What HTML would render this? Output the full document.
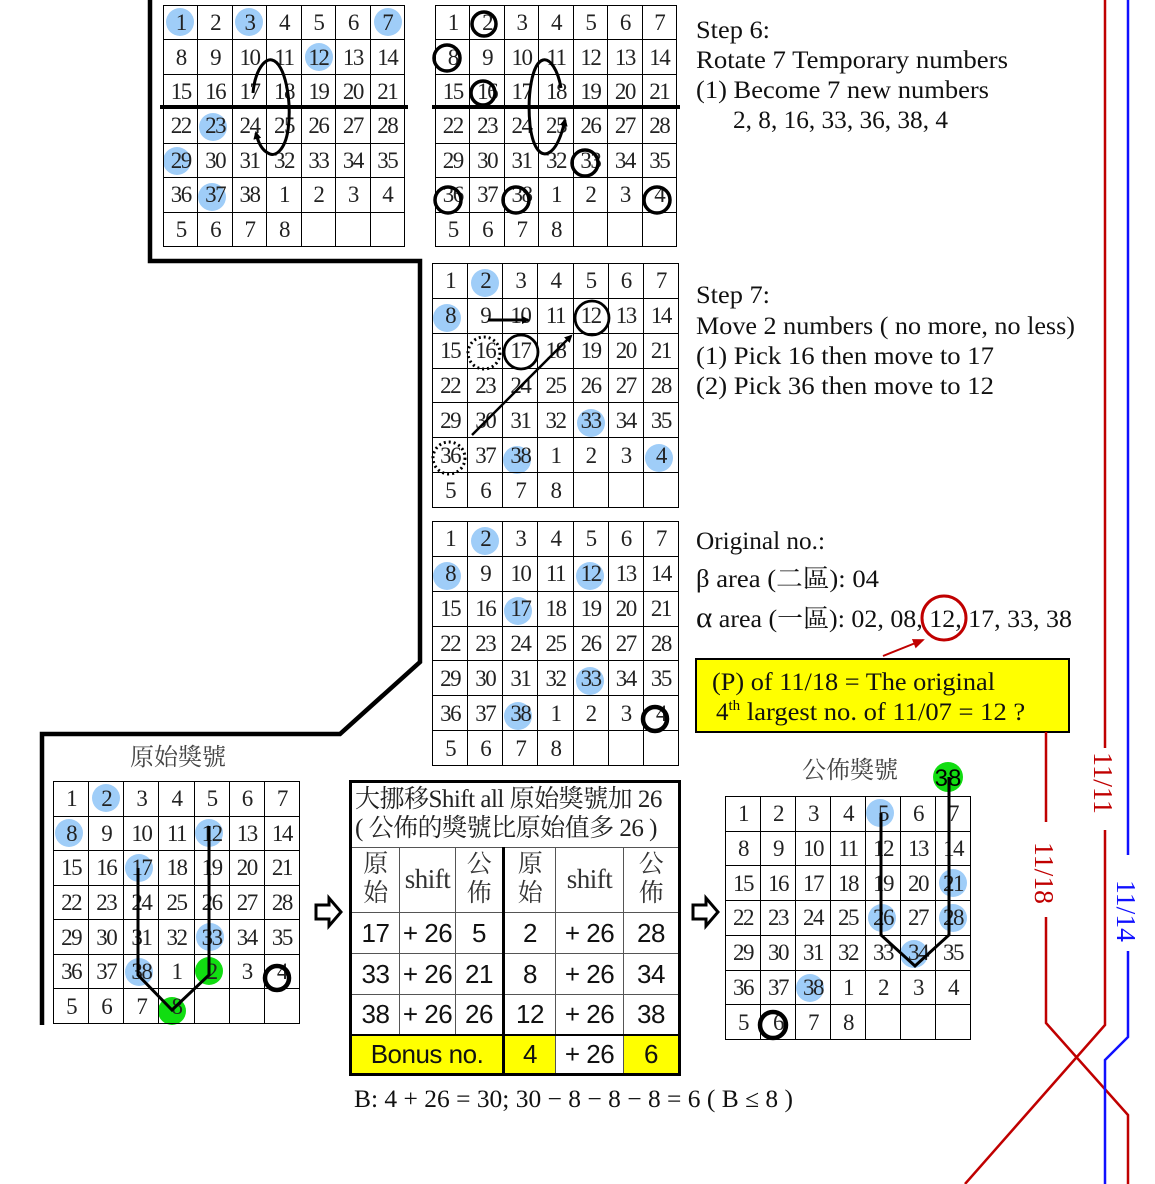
<!DOCTYPE html>
<html><head><meta charset="utf-8">
<style>
body{margin:0;width:1155px;height:1184px;background:#fff;position:relative;overflow:hidden}
svg{position:absolute;left:0;top:0}
table.g{position:absolute;border-collapse:collapse;table-layout:fixed;z-index:2}
table.g td{border:1.5px solid #000;padding:0;text-align:center;vertical-align:middle;font-family:"Liberation Serif",serif;font-size:23px;letter-spacing:-1.5px;color:#222;line-height:1}
table.t{position:absolute;left:349px;top:780px;width:329px;height:293px;border-collapse:collapse;table-layout:fixed;z-index:2;border:3px solid #000}
table.t td{border:1.5px solid #555;padding:0;text-align:center;vertical-align:middle;font-family:"Liberation Sans Narrow","Liberation Sans",sans-serif;font-size:26px;color:#111;white-space:nowrap;overflow:hidden;line-height:1;letter-spacing:-0.5px}
.cj{font-family:"Liberation Serif","Noto Serif CJK SC","Noto Sans CJK TC",serif!important;font-size:25px!important;line-height:1.15!important;color:#333!important}
.y{background:#ff0}
.bl{border-left:3.5px solid #000!important}
.yb{position:absolute;left:695px;top:658px;width:371px;height:71px;background:#ff0;border:2.5px solid #000;z-index:1}
</style></head><body>

<svg width="1155" height="1184" style="z-index:1">
<g fill="#9fcdf8">
<circle cx="180" cy="22" r="14"/><circle cx="249" cy="22" r="14"/><circle cx="388" cy="22" r="14"/><circle cx="319" cy="57" r="14"/><circle cx="213" cy="127" r="14"/><circle cx="177" cy="161" r="14"/><circle cx="212" cy="197" r="14"/>
<circle cx="485" cy="283" r="14"/><circle cx="447" cy="318" r="14"/><circle cx="591" cy="423" r="14"/><circle cx="517" cy="460" r="14"/><circle cx="659" cy="458" r="14"/>
<circle cx="485" cy="541" r="14"/><circle cx="447" cy="576" r="14"/><circle cx="590" cy="576" r="14"/><circle cx="518" cy="611" r="14"/><circle cx="590" cy="681" r="14"/><circle cx="518" cy="716" r="14"/>
<circle cx="106" cy="798" r="14"/><circle cx="69" cy="833" r="14"/><circle cx="209" cy="833" r="14"/><circle cx="139" cy="868" r="14"/><circle cx="210" cy="937" r="14"/><circle cx="139" cy="972" r="14"/>
<circle cx="880" cy="813" r="14"/><circle cx="953" cy="883" r="14"/><circle cx="882" cy="918" r="14"/><circle cx="953" cy="918" r="14"/><circle cx="914" cy="954" r="14"/><circle cx="810" cy="988" r="14"/>
</g>
<g fill="#11dd11"><circle cx="209" cy="971" r="14"/><circle cx="172" cy="1011" r="14"/><circle cx="948" cy="777" r="15"/></g>
</svg>

<div class="yb"></div>

<table class="g" style="left:163px;top:5px;width:242px;height:242px">
<tr><td>1</td><td>2</td><td>3</td><td>4</td><td>5</td><td>6</td><td>7</td></tr>
<tr><td>8</td><td>9</td><td>10</td><td>11</td><td>12</td><td>13</td><td>14</td></tr>
<tr><td>15</td><td>16</td><td>17</td><td>18</td><td>19</td><td>20</td><td>21</td></tr>
<tr><td>22</td><td>23</td><td>24</td><td>25</td><td>26</td><td>27</td><td>28</td></tr>
<tr><td>29</td><td>30</td><td>31</td><td>32</td><td>33</td><td>34</td><td>35</td></tr>
<tr><td>36</td><td>37</td><td>38</td><td>1</td><td>2</td><td>3</td><td>4</td></tr>
<tr><td>5</td><td>6</td><td>7</td><td>8</td><td></td><td></td><td></td></tr>
</table>
<table class="g" style="left:435px;top:5px;width:242px;height:242px">
<tr><td>1</td><td>2</td><td>3</td><td>4</td><td>5</td><td>6</td><td>7</td></tr>
<tr><td>8</td><td>9</td><td>10</td><td>11</td><td>12</td><td>13</td><td>14</td></tr>
<tr><td>15</td><td>16</td><td>17</td><td>18</td><td>19</td><td>20</td><td>21</td></tr>
<tr><td>22</td><td>23</td><td>24</td><td>25</td><td>26</td><td>27</td><td>28</td></tr>
<tr><td>29</td><td>30</td><td>31</td><td>32</td><td>33</td><td>34</td><td>35</td></tr>
<tr><td>36</td><td>37</td><td>38</td><td>1</td><td>2</td><td>3</td><td>4</td></tr>
<tr><td>5</td><td>6</td><td>7</td><td>8</td><td></td><td></td><td></td></tr>
</table>
<table class="g" style="left:432px;top:263px;width:247px;height:245px">
<tr><td>1</td><td>2</td><td>3</td><td>4</td><td>5</td><td>6</td><td>7</td></tr>
<tr><td>8</td><td>9</td><td>10</td><td>11</td><td>12</td><td>13</td><td>14</td></tr>
<tr><td>15</td><td>16</td><td>17</td><td>18</td><td>19</td><td>20</td><td>21</td></tr>
<tr><td>22</td><td>23</td><td>24</td><td>25</td><td>26</td><td>27</td><td>28</td></tr>
<tr><td>29</td><td>30</td><td>31</td><td>32</td><td>33</td><td>34</td><td>35</td></tr>
<tr><td>36</td><td>37</td><td>38</td><td>1</td><td>2</td><td>3</td><td>4</td></tr>
<tr><td>5</td><td>6</td><td>7</td><td>8</td><td></td><td></td><td></td></tr>
</table>
<table class="g" style="left:432px;top:521px;width:247px;height:245px">
<tr><td>1</td><td>2</td><td>3</td><td>4</td><td>5</td><td>6</td><td>7</td></tr>
<tr><td>8</td><td>9</td><td>10</td><td>11</td><td>12</td><td>13</td><td>14</td></tr>
<tr><td>15</td><td>16</td><td>17</td><td>18</td><td>19</td><td>20</td><td>21</td></tr>
<tr><td>22</td><td>23</td><td>24</td><td>25</td><td>26</td><td>27</td><td>28</td></tr>
<tr><td>29</td><td>30</td><td>31</td><td>32</td><td>33</td><td>34</td><td>35</td></tr>
<tr><td>36</td><td>37</td><td>38</td><td>1</td><td>2</td><td>3</td><td>4</td></tr>
<tr><td>5</td><td>6</td><td>7</td><td>8</td><td></td><td></td><td></td></tr>
</table>
<table class="g" style="left:53px;top:781px;width:247px;height:243px">
<tr><td>1</td><td>2</td><td>3</td><td>4</td><td>5</td><td>6</td><td>7</td></tr>
<tr><td>8</td><td>9</td><td>10</td><td>11</td><td>12</td><td>13</td><td>14</td></tr>
<tr><td>15</td><td>16</td><td>17</td><td>18</td><td>19</td><td>20</td><td>21</td></tr>
<tr><td>22</td><td>23</td><td>24</td><td>25</td><td>26</td><td>27</td><td>28</td></tr>
<tr><td>29</td><td>30</td><td>31</td><td>32</td><td>33</td><td>34</td><td>35</td></tr>
<tr><td>36</td><td>37</td><td>38</td><td>1</td><td>2</td><td>3</td><td>4</td></tr>
<tr><td>5</td><td>6</td><td>7</td><td>8</td><td></td><td></td><td></td></tr>
</table>
<table class="g" style="left:725px;top:796px;width:246px;height:244px">
<tr><td>1</td><td>2</td><td>3</td><td>4</td><td>5</td><td>6</td><td>7</td></tr>
<tr><td>8</td><td>9</td><td>10</td><td>11</td><td>12</td><td>13</td><td>14</td></tr>
<tr><td>15</td><td>16</td><td>17</td><td>18</td><td>19</td><td>20</td><td>21</td></tr>
<tr><td>22</td><td>23</td><td>24</td><td>25</td><td>26</td><td>27</td><td>28</td></tr>
<tr><td>29</td><td>30</td><td>31</td><td>32</td><td>33</td><td>34</td><td>35</td></tr>
<tr><td>36</td><td>37</td><td>38</td><td>1</td><td>2</td><td>3</td><td>4</td></tr>
<tr><td>5</td><td>6</td><td>7</td><td>8</td><td></td><td></td><td></td></tr>
</table>

<table class="t">
<colgroup><col style="width:49px"><col style="width:56px"><col style="width:48px"><col style="width:52px"><col style="width:68px"><col style="width:56px"></colgroup>
<tr style="height:66px"><td colspan="6" class="cj" style="text-align:left;padding-left:3px;font-size:25px!important;color:#222!important;letter-spacing:-0.5px">大挪移Shift all 原始獎號加 26<br>( 公佈的獎號比原始值多 26 )</td></tr>
<tr style="height:65px"><td class="cj">原<br>始</td><td class="cj" style="font-size:27px!important">shift</td><td class="cj">公<br>佈</td><td class="cj bl">原<br>始</td><td class="cj" style="font-size:27px!important">shift</td><td class="cj">公<br>佈</td></tr>
<tr style="height:41px"><td>17</td><td>+ 26</td><td>5</td><td class="bl">2</td><td>+ 26</td><td>28</td></tr>
<tr style="height:41px"><td>33</td><td>+ 26</td><td>21</td><td class="bl">8</td><td>+ 26</td><td>34</td></tr>
<tr style="height:40px"><td>38</td><td>+ 26</td><td>26</td><td class="bl">12</td><td>+ 26</td><td>38</td></tr>
<tr style="height:40px"><td colspan="3" class="y" style="border-top:2px solid #000">Bonus no.</td><td class="y bl" style="border-top:2px solid #000">4</td><td style="border-top:2px solid #000">+ 26</td><td class="y" style="border-top:2px solid #000">6</td></tr>
</table>

<svg width="1155" height="1184" style="z-index:3">
<defs>
<marker id="ah" markerWidth="8" markerHeight="8" refX="6" refY="4" orient="auto" markerUnits="userSpaceOnUse"><path d="M0,0 L8,4 L0,8 z" fill="#000"/></marker>
<marker id="ahr" markerWidth="12" markerHeight="10" refX="10" refY="5" orient="auto" markerUnits="userSpaceOnUse"><path d="M0,0 L12,5 L0,10 z" fill="#c00000"/></marker>
</defs>
<path d="M150,0 V261 H420 V662 L340,734 H42 V1025" fill="none" stroke="#000" stroke-width="4.5"/>
<line x1="160" y1="107" x2="408" y2="107" stroke="#000" stroke-width="4"/>
<line x1="432" y1="107" x2="680" y2="107" stroke="#000" stroke-width="4"/>
<path d="M253,93 C255,70 265,58 272,60 C285,63 292,100 288,130 C285,150 275,158 268,153 C262,150 258,142 256,133" fill="none" stroke="#000" stroke-width="3" marker-end="url(#ah)"/>
<path d="M561,88 C558,70 550,58 543,60 C532,63 527,95 530,125 C533,150 542,158 550,152 C556,148 561,138 565,120" fill="none" stroke="#000" stroke-width="3" marker-end="url(#ah)"/>
<g fill="none" stroke="#000" stroke-width="3.5">
<circle cx="484" cy="24" r="12"/><circle cx="447" cy="58" r="13"/><circle cx="483" cy="93" r="12"/><circle cx="585" cy="163" r="13"/><circle cx="448" cy="200" r="13"/><circle cx="516" cy="200" r="13"/><circle cx="657" cy="200" r="13"/>
</g>
<g fill="none" stroke="#000" stroke-width="2.8">
<circle cx="592" cy="318" r="17"/><circle cx="521" cy="352" r="17"/>
</g>
<g fill="none" stroke="#000" stroke-width="3" stroke-dasharray="2,3">
<circle cx="484" cy="353" r="16"/><circle cx="449" cy="458" r="16"/>
</g>
<line x1="488" y1="320" x2="528" y2="320" stroke="#000" stroke-width="3" marker-end="url(#ah)"/>
<line x1="472" y1="435" x2="571" y2="336" stroke="#000" stroke-width="2.5" marker-end="url(#ah)"/>
<g fill="none" stroke="#000" stroke-width="4.5">
<circle cx="655" cy="719" r="12"/><circle cx="277" cy="978" r="12"/><circle cx="773" cy="1025" r="13"/>
</g>
<path d="M138,868 V975 L172,1010 L209,975 V826" fill="none" stroke="#000" stroke-width="3"/>
<path d="M881,813 V935 L915,966 L949,935 V777" fill="none" stroke="#000" stroke-width="3"/>
<text x="948" y="786" font-family="Liberation Sans,sans-serif" font-size="24" text-anchor="middle" fill="#000">38</text>
<path d="M316,905 H329 V898 L341,912 L329,926 V919 H316 Z" fill="#fff" stroke="#000" stroke-width="3"/>
<path d="M693,905 H706 V898 L718,912 L706,926 V919 H693 Z" fill="#fff" stroke="#000" stroke-width="3"/>
<text x="178" y="765" font-family="Noto Serif CJK SC,Noto Sans CJK TC,serif" font-size="24" text-anchor="middle" fill="#444">原始獎號</text>
<text x="850" y="778" font-family="Noto Serif CJK SC,Noto Sans CJK TC,serif" font-size="24" text-anchor="middle" fill="#444">公佈獎號</text>
<g font-family="Liberation Serif,serif" font-size="25" fill="#111">
<text x="696" y="38" textLength="74" lengthAdjust="spacingAndGlyphs">Step 6:</text>
<text x="696" y="68" textLength="312" lengthAdjust="spacingAndGlyphs">Rotate 7 Temporary numbers</text>
<text x="696" y="98" textLength="293" lengthAdjust="spacingAndGlyphs">(1) Become 7 new numbers</text>
<text x="733" y="128" textLength="215" lengthAdjust="spacingAndGlyphs">2, 8, 16, 33, 36, 38, 4</text>
<text x="696" y="303" textLength="74" lengthAdjust="spacingAndGlyphs">Step 7:</text>
<text x="696" y="334" textLength="379" lengthAdjust="spacingAndGlyphs">Move 2 numbers ( no more, no less)</text>
<text x="696" y="364" textLength="298" lengthAdjust="spacingAndGlyphs">(1)  Pick 16 then move to 17</text>
<text x="696" y="394" textLength="298" lengthAdjust="spacingAndGlyphs">(2)  Pick 36 then move to 12</text>
<text x="696" y="549" textLength="129" lengthAdjust="spacingAndGlyphs">Original no.:</text>
<text x="696" y="587" textLength="183" lengthAdjust="spacingAndGlyphs">β area (<tspan font-family="Noto Serif CJK SC,serif">二區</tspan>): 04</text>
<text x="696" y="627" textLength="376" lengthAdjust="spacingAndGlyphs"><tspan font-size="30">α</tspan> area (<tspan font-family="Noto Serif CJK SC,serif">一區</tspan>): 02, 08, 12, 17, 33, 38</text>
<text x="712" y="690" textLength="283" lengthAdjust="spacingAndGlyphs">(P) of 11/18 = The original</text>
<text x="716" y="720">4<tspan font-size="15" dy="-10">th</tspan><tspan dy="10" textLength="285" lengthAdjust="spacingAndGlyphs"> largest no. of 11/07 = 12 ?</tspan></text>
<text x="354" y="1107" textLength="439" lengthAdjust="spacingAndGlyphs">B:  4 + 26 = 30; 30 − 8 − 8 − 8 = 6   ( B ≤ 8 )</text>
</g>
<circle cx="944" cy="618" r="22" fill="none" stroke="#c00000" stroke-width="3"/>
<line x1="883" y1="656" x2="923" y2="640" stroke="#c00000" stroke-width="2" marker-end="url(#ahr)"/>
<g fill="none" stroke-width="2.5">
<path d="M1105,0 V748 M1105,830 V1025 L965,1184" stroke="#c00000"/>
<path d="M1046,732 V822 M1046,917 V1023 L1128,1115 V1184" stroke="#c00000"/>
<path d="M1128,0 V855 M1128,951 V1037 L1105,1060 V1184" stroke="#1010ff"/>
</g>
<g font-family="Liberation Serif,serif" font-size="27">
<text transform="translate(1094,752) rotate(90)" fill="#c00000" textLength="62" lengthAdjust="spacingAndGlyphs">11/11</text>
<text transform="translate(1035,842) rotate(90)" fill="#c00000" textLength="62" lengthAdjust="spacingAndGlyphs">11/18</text>
<text transform="translate(1117,880) rotate(90)" fill="#1010ff" textLength="62" lengthAdjust="spacingAndGlyphs">11/14</text>
</g>
</svg>
</body></html>
